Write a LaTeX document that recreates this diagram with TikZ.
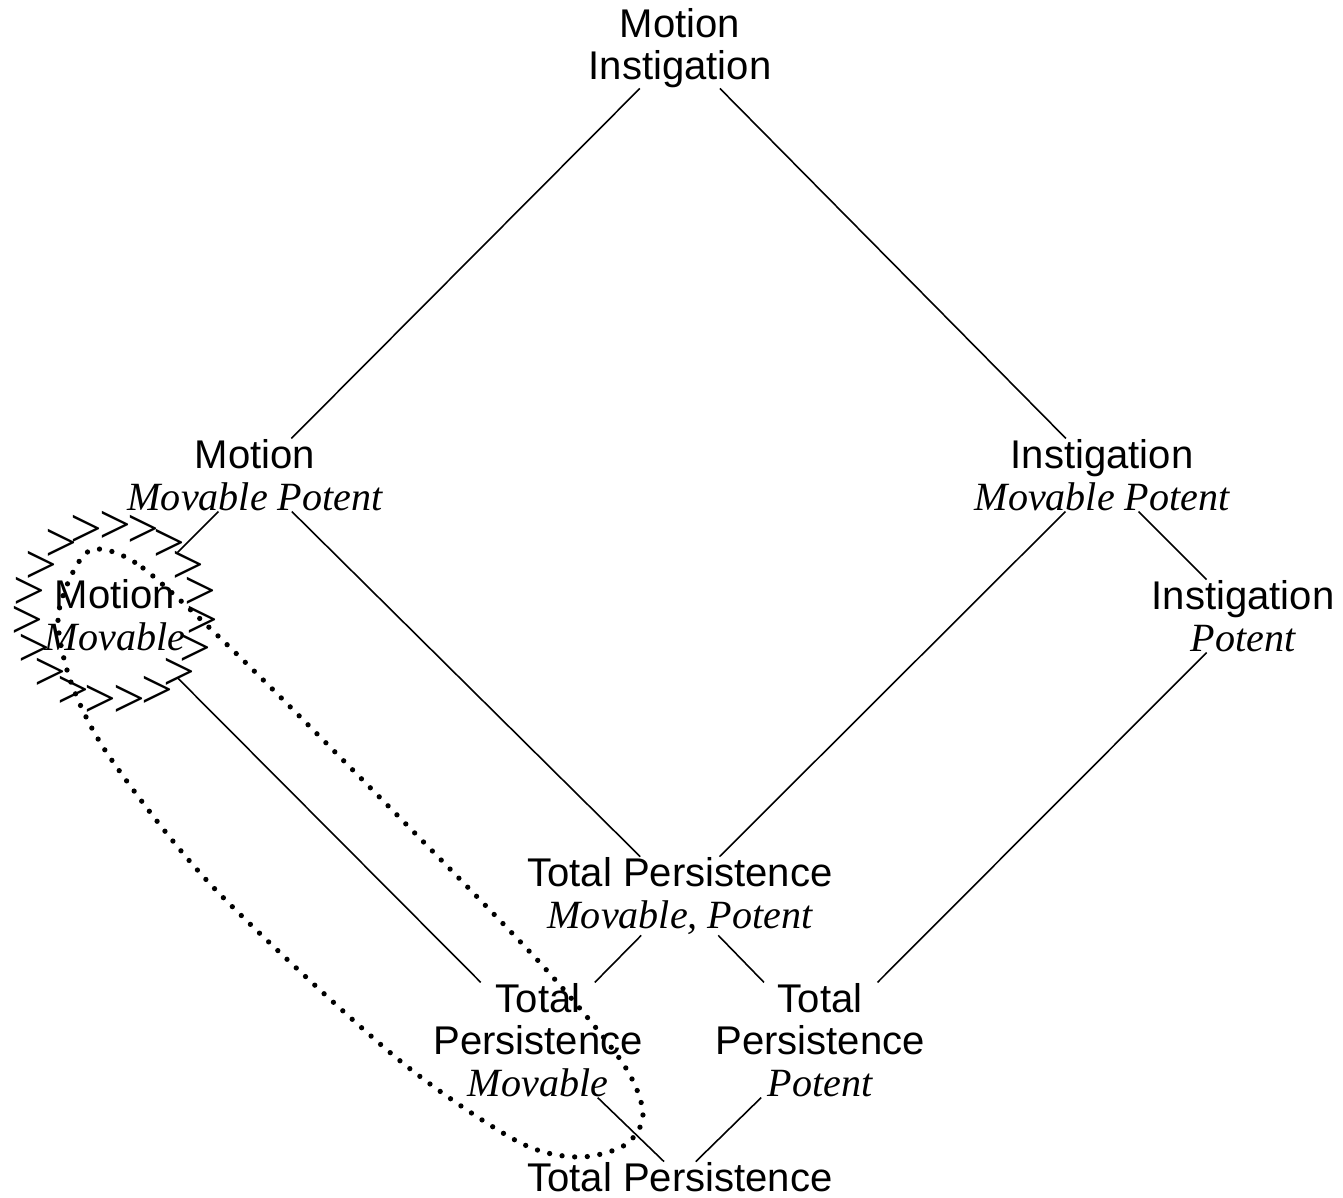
\documentclass[tikz,border=0pt]{standalone}
\usepackage{fontspec}
\setmainfont{Liberation Serif}
\setsansfont{Liberation Sans}
\usepackage{tikz}
\newcommand{\attr}[1]{{\rmfamily\itshape #1}}
\tikzset{
    every node/.style={align=center, inner sep=0pt,
    	font=\sffamily\fontsize{11.4}{12}\selectfont}
}
\tikzset{
    every edge/.append style={line width=0.45pt}
}
\tikzset{
	chevron/.style={font=\rmfamily\fontsize{16}{16}\selectfont},
	ring/.style={line width=1.5pt, line cap=round, dash pattern=on 0pt off 3.6pt}
}

\begin{document}
\begin{tikzpicture}
	\useasboundingbox (0cm, 0cm) rectangle (13.43cm, -11.97cm);

	\node (top) at (6.80cm, -0.48cm) {Motion\\Instigation};

	\node (mmp) at (2.55cm, -4.75cm) {Motion\\\attr{Movable Potent}};
	\node (imp) at (11.02cm, -4.75cm) {Instigation\\\attr{Movable Potent}};

	\node (mm) [circle, minimum size=1.76cm] at (1.15cm, -6.15cm) {Motion\\\attr{Movable}};
	\node (ip) at (12.43cm, -6.16cm) {Instigation\\\attr{Potent}};

	\node (tpmp) at (6.80cm, -8.96cm) {Total Persistence\\\attr{Movable, Potent}};
	\node (tpm) at (5.38cm, -10.40cm) {Total\\Persistence\\\attr{Movable}};
	\node (tpp) at (8.20cm, -10.40cm) {Total\\Persistence\\\attr{Potent}};

	\node (bot) at (6.80cm, -11.77cm) {Total Persistence};

	% ring of marks round the movable node
	\foreach \i [evaluate=\i as \a using 90-\i*360/19] in {0,...,18}
		\node [chevron] at ([shift={(\a:0.88cm)}]mm) {>};

	\draw (top) edge (mmp); \draw (top) edge (imp);
	\draw (mmp) edge (mm); \draw (mmp) edge (tpmp);
	\draw (imp) edge (tpmp); \draw (imp) edge (ip);
	\draw (ip) edge (tpp); \draw (mm) edge (tpm);
	\draw (tpmp) edge (tpm); \draw (tpmp) edge (tpp);
	\draw (tpm) edge (bot); \draw (tpp) edge (bot);

	\draw [ring] plot [smooth cycle] coordinates {
		(0.95cm, -5.49cm) (1.43cm, -5.68cm) (2.45cm, -6.62cm)
		(4.02cm, -8.20cm) (5.42cm, -9.65cm) (6.22cm, -10.62cm)
		(6.43cm, -11.14cm) (6.25cm, -11.45cm) (5.77cm, -11.57cm)
		(5.15cm, -11.40cm) (3.93cm, -10.55cm) (2.13cm, -8.87cm)
		(1.11cm, -7.59cm) (0.72cm, -6.85cm) (0.58cm, -6.20cm)
		(0.73cm, -5.72cm)};
\end{tikzpicture}
\end{document}
